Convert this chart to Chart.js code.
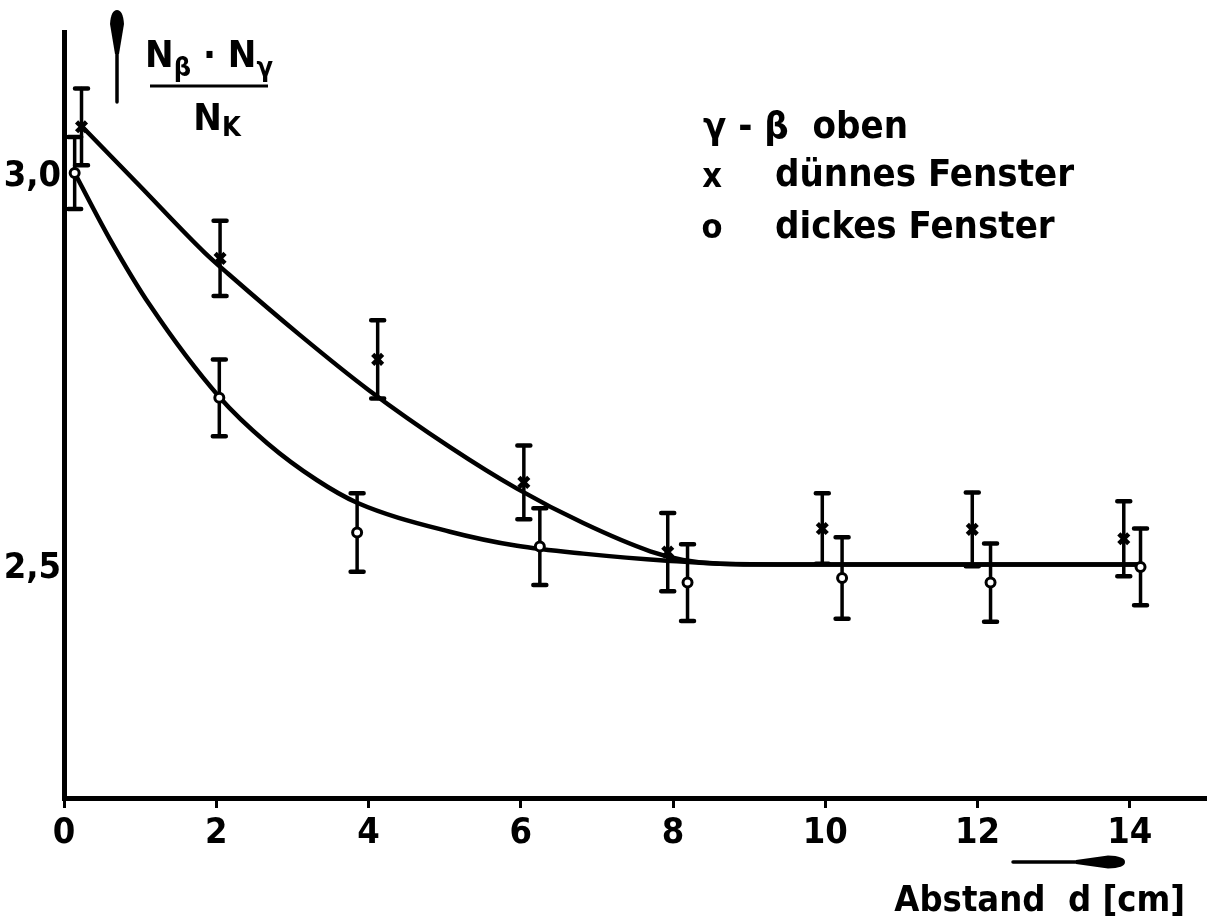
<!DOCTYPE html>
<html>
<head>
<meta charset="utf-8">
<script src="https://cdn.jsdelivr.net/npm/chart.js@4"></script>
<style>
html,body{margin:0;padding:0;background:#fff;}
canvas{display:block;}
</style>
</head>
<body>
<canvas id="c" width="1208" height="922"></canvas>
<script>
// ---- data ----
const xTickValues = [0, 2, 4, 6, 8, 10, 12, 14];
const yTickValues = [2.5, 3.0];

// "dünnes Fenster" (x markers)
const thinX   = [0.23, 2.05, 4.12, 6.04, 7.93, 9.96, 11.93, 13.92];
const thinY   = [3.064, 2.896, 2.767, 2.610, 2.521, 2.551, 2.550, 2.538];
const thinErr = [0.049, 0.048, 0.050, 0.047, 0.050, 0.045, 0.047, 0.048];

// "dickes Fenster" (o markers)
const thickX   = [0.14, 2.04, 3.85, 6.25, 8.19, 10.22, 12.17, 14.14];
const thickY   = [3.005, 2.718, 2.546, 2.528, 2.482, 2.488, 2.482, 2.502];
const thickErr = [0.046, 0.049, 0.050, 0.049, 0.049, 0.052, 0.050, 0.049];

// hand-drawn fitted curves
const upperCurveX = [0.24, 1.00, 1.85, 2.16, 3.10, 4.00, 5.07, 5.95, 6.82, 7.70, 8.13, 8.62, 10.0, 12.0, 14.14];
const upperCurveY = [3.064, 2.988, 2.903, 2.876, 2.798, 2.728, 2.655, 2.602, 2.558, 2.522, 2.511, 2.506, 2.505, 2.505, 2.505];
const lowerCurveX = [0.14, 0.60, 1.13, 2.04, 2.67, 3.32, 3.85, 5.07, 5.95, 6.82, 7.92, 9.01, 11.0, 14.14];
const lowerCurveY = [3.005, 2.921, 2.836, 2.719, 2.660, 2.613, 2.584, 2.547, 2.529, 2.519, 2.510, 2.505, 2.505, 2.505];

const legendHeader = "γ - β  oben";
const xTitle = "Abstand  d [cm]";

// ---- styling ----
const FAM = '"DejaVu Sans Condensed", "DejaVu Sans", sans-serif';
const INK = '#000';
function font(size){ return 'bold ' + size + 'px ' + FAM; }

const pts = (xs, ys) => xs.map((x, i) => ({x: x, y: ys[i]}));

const bgPlugin = {
  id: 'bg',
  beforeDraw(chart){
    const c = chart.ctx; c.save(); c.fillStyle = '#fff';
    c.fillRect(0, 0, chart.width, chart.height); c.restore();
  }
};

const errorBarPlugin = {
  id: 'errorBars',
  beforeDatasetsDraw(chart){
    const c = chart.ctx, ys = chart.scales.y;
    c.save();
    c.strokeStyle = INK; c.lineCap = 'round';
    chart.data.datasets.forEach((ds, di) => {
      if (!ds.errors) return;
      const meta = chart.getDatasetMeta(di);
      meta.data.forEach((el, i) => {
        const v = ds.data[i];
        const top = ys.getPixelForValue(v.y + ds.errors[i]);
        const bot = ys.getPixelForValue(v.y - ds.errors[i]);
        const px = el.x;
        c.lineWidth = 3.5;
        c.beginPath(); c.moveTo(px, top); c.lineTo(px, bot); c.stroke();
        c.lineWidth = 4.5;
        c.beginPath(); c.moveTo(px - 6.5, top); c.lineTo(px + 6.5, top);
        c.moveTo(px - 6.5, bot); c.lineTo(px + 6.5, bot); c.stroke();
      });
    });
    c.restore();
  }
};

const annotPlugin = {
  id: 'annot',
  afterDraw(chart){
    const c = chart.ctx;
    c.save();
    c.fillStyle = INK; c.strokeStyle = INK;

    // vertical arrow next to the y axis
    let ax = 117;
    c.lineWidth = 3.5; c.lineCap = 'round';
    c.beginPath(); c.moveTo(ax, 102); c.lineTo(ax, 45); c.stroke();
    c.beginPath();
    c.moveTo(ax - 2, 54); c.lineTo(ax - 7, 24);
    c.quadraticCurveTo(ax - 6, 10, ax, 10);
    c.quadraticCurveTo(ax + 6, 10, ax + 7, 24);
    c.lineTo(ax + 2, 54);
    c.closePath(); c.fill();

    // horizontal arrow above the x title
    let ay = 862;
    c.beginPath(); c.moveTo(1013, ay); c.lineTo(1085, ay); c.stroke();
    c.beginPath();
    c.moveTo(1076, ay - 2); c.lineTo(1108, ay - 6.5);
    c.quadraticCurveTo(1125, ay - 6, 1125, ay);
    c.quadraticCurveTo(1125, ay + 6, 1108, ay + 6.5);
    c.lineTo(1076, ay + 2);
    c.closePath(); c.fill();

    // y-axis quantity as fraction  N_beta · N_gamma / N_K
    c.textBaseline = 'alphabetic'; c.textAlign = 'left';
    const big = font(38), sub = font(27);
    const parts = [['N', big, 0], ['β', sub, 9], [' · ', big, 0], ['N', big, 0], ['γ', sub, 9]];
    let w = 0;
    parts.forEach(p => { c.font = p[1]; w += c.measureText(p[0]).width; });
    let x = 209 - w / 2;
    parts.forEach(p => { c.font = p[1]; c.fillText(p[0], x, 67 + p[2]); x += c.measureText(p[0]).width; });
    c.lineWidth = 3; c.lineCap = 'butt';
    c.beginPath(); c.moveTo(150, 86); c.lineTo(268, 86); c.stroke();
    const parts2 = [['N', big, 0], ['K', sub, 6]];
    w = 0;
    parts2.forEach(p => { c.font = p[1]; w += c.measureText(p[0]).width; });
    x = 217 - w / 2;
    parts2.forEach(p => { c.font = p[1]; c.fillText(p[0], x, 130 + p[2]); x += c.measureText(p[0]).width; });

    // legend
    c.font = font(38);
    c.textBaseline = 'middle';
    c.fillText(legendHeader, 703, 128);
    const thin = chart.data.datasets[2], thick = chart.data.datasets[3];
    c.textAlign = 'center';
    c.font = font(34);
    c.fillText('x', 712, 178);
    c.fillText('o', 712, 229);
    c.font = font(38);
    c.textAlign = 'left';
    c.fillText(thin.label, 775, 176);
    c.fillText(thick.label, 775, 228);

    // x axis title
    c.font = font(36);
    c.textAlign = 'right';
    c.fillText(xTitle, 1185, 902);
    c.restore();
  }
};

new Chart(document.getElementById('c'), {
  type: 'scatter',
  data: {
    datasets: [
      { type: 'line', label: 'Fit dünnes Fenster', data: pts(upperCurveX, upperCurveY),
        borderColor: INK, borderWidth: 4.5, pointRadius: 0, fill: false,
        cubicInterpolationMode: 'monotone', order: 2 },
      { type: 'line', label: 'Fit dickes Fenster', data: pts(lowerCurveX, lowerCurveY),
        borderColor: INK, borderWidth: 4.5, pointRadius: 0, fill: false,
        cubicInterpolationMode: 'monotone', order: 2 },
      { label: 'dünnes Fenster', data: pts(thinX, thinY), errors: thinErr,
        pointStyle: 'crossRot', pointRadius: 7, borderWidth: 4.5,
        borderColor: INK, backgroundColor: INK, order: 1 },
      { label: 'dickes Fenster', data: pts(thickX, thickY), errors: thickErr,
        pointStyle: 'circle', pointRadius: 4.5, borderWidth: 3,
        borderColor: INK, backgroundColor: '#fff', order: 0 }
    ]
  },
  options: {
    responsive: false,
    animation: false,
    devicePixelRatio: 1,
    layout: { autoPadding: false, padding: { top: 32, right: 2, left: 0, bottom: 0 } },
    plugins: { legend: { display: false }, tooltip: { enabled: false } },
    scales: {
      x: {
        type: 'linear', min: 0, max: 15,
        afterFit(s){ s.height = 124; s.paddingLeft = 0; s.paddingRight = 0; },
        afterBuildTicks(s){ s.ticks = xTickValues.map(v => ({ value: v })); },
        grid: { display: true, drawOnChartArea: false, drawTicks: true, tickLength: 10,
                tickWidth: 3, tickColor: INK },
        border: { display: true, width: 5, color: INK },
        ticks: { color: INK, font: { family: FAM, size: 36, weight: 'bold' },
                 padding: 4, maxRotation: 0, autoSkip: false }
      },
      y: {
        type: 'linear', min: 2.207, max: 3.185,
        afterFit(s){ s.width = 64; },
        afterBuildTicks(s){ s.ticks = yTickValues.map(v => ({ value: v })); },
        grid: { display: false },
        border: { display: true, width: 5, color: INK },
        ticks: { color: INK, font: { family: FAM, size: 36, weight: 'bold' }, padding: -5,
                 callback: v => v.toFixed(1).replace('.', ',') }
      }
    }
  },
  plugins: [bgPlugin, errorBarPlugin, annotPlugin]
});
</script>
</body>
</html>
